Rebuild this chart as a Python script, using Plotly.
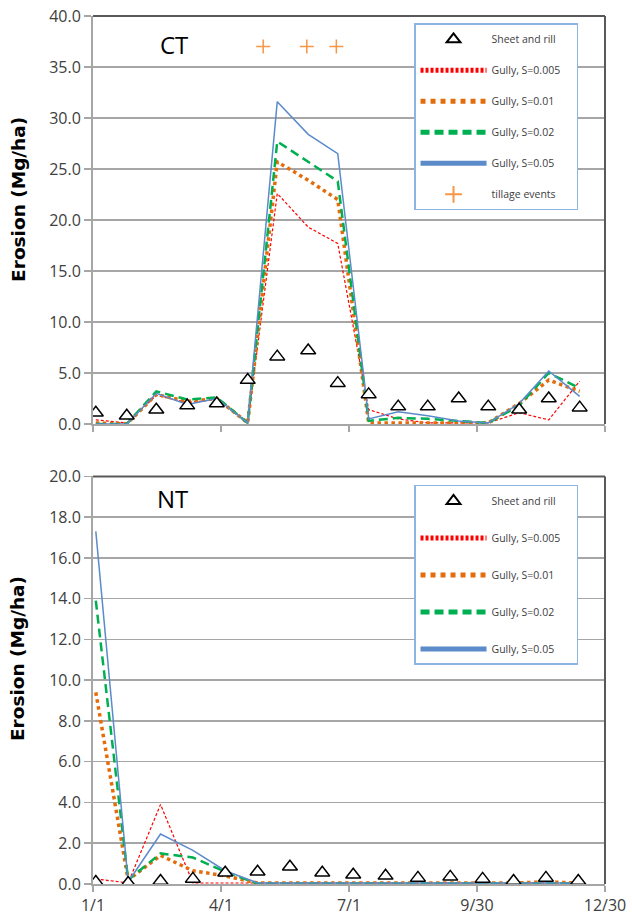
import plotly.graph_objects as go

# ---------------- data ----------------
ct_days = [2, 24, 45, 67, 88, 110, 131, 153, 174, 196, 217, 238, 260, 281, 303, 324, 346]
ct_sheet = [1.1, 0.8, 1.4, 1.8, 2.0, 4.3, 6.6, 7.2, 4.0, 2.9, 1.7, 1.7, 2.5, 1.7, 1.4, 2.5, 1.6]
ct_s005 = [0.4, 0.1, 2.8, 2.1, 2.4, 0.1, 22.6, 19.3, 17.7, 1.4, 0.5, 0.1, 0.1, 0.1, 1.1, 0.4, 4.2]
ct_s01 = [0.1, 0.0, 2.9, 2.2, 2.5, 0.1, 25.7, 23.9, 22.0, 0.1, 0.1, 0.1, 0.1, 0.1, 2.0, 4.3, 3.2]
ct_s02 = [0.0, 0.0, 3.2, 2.4, 2.6, 0.1, 27.7, 25.7, 23.8, 0.3, 0.6, 0.5, 0.3, 0.1, 1.8, 5.0, 3.5]
ct_s05 = [0.0, 0.0, 3.0, 1.9, 2.5, 0.1, 31.6, 28.4, 26.5, 0.5, 1.2, 0.8, 0.3, 0.1, 2.0, 5.2, 2.7]
tillage_days = [121, 152, 173]
tillage_level = [37.0, 37.0, 37.0]

nt_days = [2, 25, 48, 71, 94, 117, 140, 163, 185, 208, 231, 254, 277, 299, 322, 345]
nt_sheet = [0.1, 0.05, 0.15, 0.25, 0.55, 0.6, 0.85, 0.55, 0.45, 0.4, 0.3, 0.35, 0.25, 0.15, 0.3, 0.15]
nt_s005 = [0.25, 0.05, 3.9, 0.05, 0.05, 0.05, 0.05, 0.05, 0.05, 0.05, 0.05, 0.05, 0.05, 0.05, 0.05, 0.05]
nt_s01 = [9.4, 0.2, 1.4, 0.65, 0.4, 0.05, 0.05, 0.05, 0.05, 0.05, 0.05, 0.05, 0.05, 0.05, 0.1, 0.05]
nt_s02 = [13.9, 0.2, 1.5, 1.3, 0.6, 0.02, 0.02, 0.02, 0.02, 0.02, 0.02, 0.02, 0.02, 0.02, 0.02, 0.02]
nt_s05 = [17.3, 0.1, 2.45, 1.65, 0.65, 0.05, 0.05, 0.05, 0.05, 0.05, 0.05, 0.05, 0.05, 0.05, 0.05, 0.05]

tick_days = [0, 91, 182, 273, 364]
tick_labels = ["1/1", "4/1", "7/1", "9/30", "12/30"]
series_names = ["Sheet and rill", "Gully, S=0.005", "Gully, S=0.01", "Gully, S=0.02", "Gully, S=0.05", "tillage events"]

# ---------------- styles ----------------
FONT = "Open Sans"
TXT = "#404040"
GRID = "#A6A6A6"
PAD = "\u00a0" * 4
line_styles = [
    dict(color="#FF0000", width=1.2, dash="3px,2px"),
    dict(color="#E46C0A", width=3.5, dash="dot"),
    dict(color="#00B050", width=2.5, dash="9px,5px"),
    dict(color="#5B8BC9", width=1.5),
]

fig = go.Figure()


def add_panel(days, sheet, gullies, xa, ya, leg):
    for i, (vals, st) in enumerate(zip(gullies, line_styles)):
        fig.add_trace(go.Scatter(
            x=days, y=vals, mode="lines", name=series_names[i + 1] + PAD, line=st,
            xaxis=xa, yaxis=ya, legend=leg, legendgroup=leg + str(i + 1), legendrank=i + 2))
    fig.add_trace(go.Scatter(
        x=days, y=sheet, mode="markers", name=series_names[0] + PAD,
        marker=dict(symbol="triangle-up", size=13, color="white", line=dict(color="black", width=1.5)),
        xaxis=xa, yaxis=ya, legend=leg, legendgroup=leg + "0", legendrank=1))


add_panel(ct_days, ct_sheet, [ct_s005, ct_s01, ct_s02, ct_s05], "x", "y", "legend")
fig.add_trace(go.Scatter(
    x=tillage_days, y=tillage_level, mode="markers", name=series_names[5] + PAD,
    marker=dict(symbol="cross-thin", size=10, color="#F79646", line=dict(color="#F79646", width=1.5)),
    xaxis="x", yaxis="y", legend="legend", legendgroup="legend5", legendrank=6))
add_panel(nt_days, nt_sheet, [nt_s005, nt_s01, nt_s02, nt_s05], "x2", "y2", "legend2")

xcommon = dict(range=[0, 364], tickmode="array", tickvals=tick_days, ticktext=tick_labels,
               showgrid=False, zeroline=False, showline=True, linecolor=GRID, linewidth=2,
               ticks="outside", ticklen=6, tickcolor=GRID, tickwidth=1.5, automargin=False,
               ticklabeloverflow="allow",
               tickfont=dict(family=FONT, size=16, color=TXT), fixedrange=True)
ycommon = dict(showgrid=True, gridcolor=GRID, gridwidth=1.5, zeroline=False, showline=True,
               linecolor=GRID, linewidth=2, ticks="outside", ticklen=7, tickcolor=GRID, tickwidth=1.5,
               tickformat=".1f", tickfont=dict(family=FONT, size=16, color=TXT), fixedrange=True,
               automargin=False, ticklabeloverflow="allow")

legcommon = dict(bgcolor="white", bordercolor="#8EB4E3", borderwidth=1.5,
                 font=dict(family=FONT, size=10.5, color=TXT), itemwidth=66,
                 traceorder="grouped", xref="paper", yref="paper", xanchor="left", yanchor="top",
                 itemsizing="constant")

fig.update_layout(
    width=632, height=922, paper_bgcolor="white", plot_bgcolor="white",
    margin=dict(l=93, r=27, t=16, b=38, autoexpand=False),
    showlegend=True, hovermode=False,
    xaxis=dict(domain=[0, 1], anchor="y", showticklabels=False, **xcommon),
    yaxis=dict(domain=[0.530, 1.0], anchor="x", range=[0, 40], dtick=5, **ycommon),
    xaxis2=dict(domain=[0, 1], anchor="y2", showticklabels=True, **xcommon),
    yaxis2=dict(domain=[0, 0.4696], anchor="x2", range=[0, 20], dtick=2, **ycommon),
    legend=dict(x=0.627, y=0.9916, tracegroupgap=12, **legcommon),
    legend2=dict(x=0.627, y=0.4597, tracegroupgap=18, **legcommon),
)

# dark top/right frame of each plot area
for xa, ya in [("x", "y"), ("x2", "y2")]:
    fig.add_shape(type="line", xref=xa + " domain", yref=ya + " domain", x0=0, x1=1, y0=1, y1=1,
                  line=dict(color="#595959", width=2))
    fig.add_shape(type="line", xref=xa + " domain", yref=ya + " domain", x0=1, x1=1, y0=0, y1=1,
                  line=dict(color="#595959", width=2))

fig.add_annotation(text="CT", xref="x domain", yref="y domain", x=0.158, y=0.931,
                   xanchor="center", yanchor="middle",
                   showarrow=False, font=dict(family=FONT, size=24, color="black"))
fig.add_annotation(text="NT", xref="x2 domain", yref="y2 domain", x=0.156, y=0.945,
                   xanchor="center", yanchor="middle",
                   showarrow=False, font=dict(family=FONT, size=24, color="black"))
for yy in [0.789, 0.260]:
    fig.add_annotation(text="<b>Erosion (Mg/ha)</b>", xref="paper", yref="paper", x=-0.147, y=yy,
                       xanchor="center", yanchor="middle", textangle=-90, showarrow=False,
                       font=dict(family="DejaVu Sans", size=18.5, color="black"))

# remove the default page margin so the 632x922 figure fills the window exactly
fig.write_html("out.html", config={"displayModeBar": False, "staticPlot": True},
               post_script="document.body.style.margin='0';")
